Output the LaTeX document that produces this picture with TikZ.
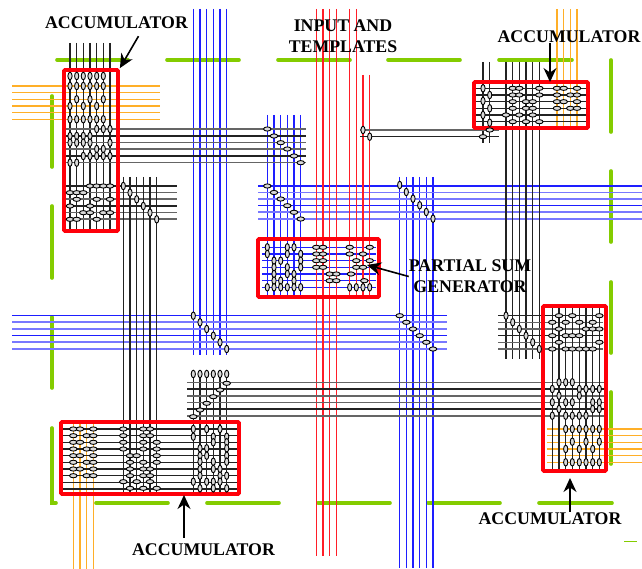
\documentclass[tikz,border=0pt]{standalone}
\usepackage{fontspec}
\setmainfont{Liberation Serif}
\usepackage{xcolor}
\usetikzlibrary{positioning, arrows.meta}
\definecolor{WireBlue}{RGB}{30,30,255}
\definecolor{WireRed}{RGB}{255,30,40}
\definecolor{WireOrange}{RGB}{255,175,40}
\definecolor{WireGray}{RGB}{35,35,35}
\definecolor{DashGreen}{RGB}{132,204,0}
\definecolor{BoxRed}{RGB}{255,0,10}
\newcommand{\vrow}[2]{\foreach \cx in {#2} {\draw[cell] (\cx,#1) ellipse (2.1 and 3.8);}}
\newcommand{\hrow}[2]{\foreach \cx in {#2} {\draw[cell] (\cx,#1) ellipse (3.8 and 2.1);}}

\begin{document}
\begin{tikzpicture}[x=1pt, y=-1pt,
          blk/.style={draw=WireGray, line width=1.1pt},
          blkf/.style={draw=WireGray!70, line width=1.6pt},
          blu/.style={draw=WireBlue, line width=1.1pt},
          bluf/.style={draw=WireBlue!60, line width=1.7pt},
          rd/.style={draw=WireRed, line width=1.1pt},
          org/.style={draw=WireOrange, line width=1.1pt},
          dsh/.style={draw=DashGreen, line width=3.6pt, line cap=round},
          redbox/.style={rectangle, draw=BoxRed, line width=3.8pt, rounded corners=1pt,
                         inner sep=0pt},
          cell/.style={draw=black, fill=black!15, line width=0.9pt},
          lbl/.style={font=\bfseries\fontsize{17.8}{21}\selectfont, align=center, inner sep=0pt},
          arr/.style={-{Stealth[length=14pt, width=13pt]}, draw=black, line width=1.6pt}
        ]
        \useasboundingbox (0,0) rectangle (642,569);

        % green dashes round the array
        \foreach \xa/\xb in {57/128, 167/239, 278/350, 388/460, 499/572}
            \draw[dsh] (\xa,60) -- (\xb,60);
        \foreach \xa/\xb in {96/168, 207/279, 318/390, 428/500, 539/612}
            \draw[dsh] (\xa,503) -- (\xb,503);
        \foreach \ya/\yb in {96/167, 206/278, 317/388}
            \draw[dsh] (52,\ya) -- (52,\yb);
        \draw[dsh] (52,428) -- (52,503) -- (56,503);
        \foreach \ya/\yb in {60/132, 171/242, 282/353, 392/464}
            \draw[dsh] (611,\ya) -- (611,\yb);
        \draw[draw=DashGreen, line width=0.8pt] (624,541) -- (637,541);

        % wires
        \foreach \y in {86,92.7,99.3,106,112.7,119.3}
            \draw[org] (12,\y) -- (160,\y);
        \foreach \x in {557,563.7,570.3,577}
            \draw[org] (\x,9) -- (\x,127);
        \foreach \x in {73.3,80,86.7,93.3}
            \draw[org] (\x,423) -- (\x,569);
        \foreach \y in {429,435.7,442.3,449,455.7,462.3}
            \draw[org] (547,\y) -- (642,\y);

        \foreach \x in {193.3,200,206.7,213.3,220,226.7}
            \draw[blu] (\x,9) -- (\x,355);
        \foreach \x in {267.3,274,280.7,287.3,294,300.7}
            \draw[blu] (\x,115) -- (\x,295);
        \foreach \x in {399.7,406.3,413,419.7,426.3,433}
            \draw[blu] (\x,177) -- (\x,568);
        \foreach \y/\s in {186/blu,192.5/bluf,199/bluf,205.7/blu,212.3/bluf,219/bluf}
            \draw[\s] (258,\y) -- (642,\y);
        \foreach \y/\s in {315.7/blu,322.3/bluf,329/bluf,335.7/blu,342.3/bluf,349/bluf}
            \draw[\s] (12,\y) -- (447,\y);
        \foreach \y in {247.3,254,260.7,267.3,274,280.7,287.3}
            \draw[blu] (262,\y) -- (376,\y);

        \foreach \x in {316.3,323,329.7,336.3}
            \draw[rd] (\x,9) -- (\x,556);
        \foreach \x in {349.7,356.3}
            \draw[rd] (\x,9) -- (\x,296);
        \foreach \x in {363,369.7}
            \draw[rd] (\x,75) -- (\x,296);

        \foreach \x in {70,76.7,83.3,90,96.7,103.3,110}
            \draw[blk] (\x,43) -- (\x,230);
        \foreach \y/\s in {129/blkf,136/blk,142.7/blkf,149/blkf,156/blk,162.7/blkf}
            \draw[\s] (65,\y) -- (306,\y);
        \foreach \y/\s in {186/blk,192.7/blkf,199.3/blkf,206/blk,212.7/blkf,219.3/blkf}
            \draw[\s] (65,\y) -- (177,\y);
        \foreach \x in {123.3,130,136.7,143.3,150,156.7}
            \draw[blk] (\x,177) -- (\x,493);
        \foreach \x in {193.3,200,206.7,213.3,220,226.7}
            \draw[blk] (\x,370) -- (\x,493);
        \foreach \y in {429,435.7,442.3,449,455.7,462.3,469,475.7,482.3,489}
            \draw[blk] (63,\y) -- (238,\y);
        \foreach \y/\s in {382.3/blkf,389/blk,395.7/blkf,402.3/blkf,409/blk,415.7/blkf}
            \draw[\s] (187,\y) -- (604,\y);
        \foreach \x in {506,512.7,519.3,526,532.7,539.3}
            \draw[blk] (\x,62) -- (\x,359);
        \foreach \y in {88.3,95,101.7,108.3,115,121.7}
            \draw[blk] (473,\y) -- (588,\y);
        \foreach \x in {483,489.7}
            \draw[blk] (\x,62) -- (\x,143);
        \draw[blkf] (360,130) -- (499,130);
        \draw[blk] (360,136.7) -- (499,136.7);
        \foreach \y/\s in {315.7/blk,322.3/blkf,329/blkf,335.7/blk,342.3/blkf,349/blkf}
            \draw[\s] (498,\y) -- (603,\y);
        \foreach \x in {552.3,559,565.7,572.3,579.3,586,592.7,599.3}
            \draw[blk] (\x,307) -- (\x,470);

        % accumulator and generator blocks
        \node[redbox, minimum width=54pt, minimum height=161pt]  (acctl) at (91,150.5) {};
        \node[redbox, minimum width=114pt, minimum height=46pt]  (acctr) at (531,105) {};
        \node[redbox, minimum width=121pt, minimum height=58pt]  (psgen) at (318.5,268) {};
        \node[redbox, minimum width=178pt, minimum height=72pt]  (accbl) at (150,458) {};
        \node[redbox, minimum width=63pt, minimum height=165pt]  (accbr) at (574.5,388.5) {};

        % switch cells, top left block
        \vrow{76}{70,76.7,83.3,90,96.7,103.3}
        \vrow{86}{70,76.7,83.3,90,96.7,103.3}
        \vrow{99.3}{76.7,90,103.3}
        \vrow{106}{70,83.3,96.7}
        \vrow{119.3}{70,76.7,83.3,90,96.7,103.3}
        \vrow{129}{96.7,103.3,110}
        \vrow{136}{70,76.7,83.3,90}
        \vrow{142.7}{70,76.7,83.3,90,110}
        \vrow{149}{96.7,103.3}
        \vrow{156}{83.3,90,96.7,103.3,110}
        \vrow{162.7}{70,76.7}
        \hrow{186}{90,96.7,103.3,110}
        \hrow{192.7}{70,76.7,83.3}
        \hrow{199.3}{76.7,96.7,110}
        \hrow{206}{70,90}
        \hrow{212.7}{83.3,90,103.3,110}
        \hrow{219.3}{70,76.7,96.7}
        \foreach \ax/\ay in {123.3/186,130/192.7,136.7/199.3,143.3/206,150/212.7,156.7/219.3}
            {\vrow{\ay}{\ax}}

        % top right block
        \vrow{88.3}{483}
        \vrow{95}{489.7}
        \vrow{101}{483}
        \vrow{108.3}{489.7}
        \vrow{115}{483}
        \vrow{122.7}{489.7}
        \hrow{88.3}{512.7,519.3,539.3,557,563.7,577}
        \hrow{95}{512.7,519.3,539.3,557,570.3,577}
        \hrow{101.7}{512.7,526,532.7,557,563.7,577}
        \hrow{108.3}{512.7,526,532.7,557,570.3,577}
        \hrow{115}{506,519.3,532.7}
        \hrow{121.7}{512.7,526,539.3}
        \vrow{130}{363}
        \vrow{136.7}{369.7}
        \hrow{136.7}{483}
        \hrow{130}{489.7}

        % diagonals of the blue crossings
        \foreach \ax/\ay in {267.3/129,274/136,280.7/142.7,287.3/149,294/156,300.7/162.7,
                             267.3/186,274/192.5,280.7/199,287.3/205.7,294/212.3,300.7/219,
                             399.7/315.7,406.3/322.3,413/329,419.7/335.7,426.3/342.3,433/349}
            {\hrow{\ay}{\ax}}
        \foreach \ax/\ay in {193.3/315.7,200/322.3,206.7/329,213.3/335.7,220/342.3,226.7/349,
                             399.7/185,406.3/192,413/198.7,419.7/205.3,426.3/212,433/218.7,
                             506/315.7,512.7/322.3,519.3/329,526/335.7,532.7/342.3,539.3/349}
            {\vrow{\ay}{\ax}}

        % partial sum generator
        \vrow{247.3}{267.3,287.3,294}
        \vrow{254}{267.3,287.3,300.7}
        \vrow{260.7}{274,280.7,300.7}
        \vrow{267.3}{274,287.3,300.7}
        \vrow{274}{274,287.3,294}
        \vrow{280.7}{274,280.7,294}
        \vrow{287.3}{267.3,274,280.7,287.3,294,300.7,349.7,356.3,363,369.7}
        \hrow{247.3}{316.3,323,349.7,369.7}
        \hrow{254}{316.3,323,349.7,363}
        \hrow{260.7}{316.3,323,356.3,369.7}
        \hrow{267.3}{316.3,323,356.3,363}
        \hrow{274}{329.7,336.3,351}
        \hrow{280.7}{329.7,336.3,364.3}

        % bottom left block
        \hrow{429}{73.3,80,93.3,123.3,143.3,150}
        \hrow{435.7}{73.3,86.7,93.3,123.3,143.3,150}
        \hrow{442.3}{73.3,80,93.3,123.3,143.3,156.7}
        \hrow{449}{73.3,86.7,93.3,123.3,143.3,156.7}
        \hrow{455.7}{73.3,80,93.3,130,136.7,156.7}
        \hrow{462.3}{73.3,86.7,93.3,130,143.3,156.7}
        \hrow{469}{73.3,80,93.3,130,143.3,150}
        \hrow{475.7}{73.3,86.7,93.3,130,143.3,150}
        \hrow{481.7}{123.3,136.7,150}
        \hrow{488.3}{130,143.3,156.7}
        \vrow{429}{193.3,206.7,220}
        \vrow{436.7}{193.3,213.3,226.7}
        \vrow{442.3}{213.3,226.7}
        \vrow{448.3}{200,206.7,226.7}
        \vrow{455.7}{200,206.7,226.7}
        \vrow{461.7}{200,213.3,226.7}
        \vrow{469}{200,213.3,220}
        \vrow{475.7}{200,220,226.7}
        \vrow{481.7}{193.3,206.7,213.3,220}
        \vrow{488.3}{200,213.3,226.7}
        \vrow{374}{193.3,200,206.7,213.3,220,226.7}
        \foreach \ax/\ay in {193.3/416.7,200/410,206.7/403.3,213.3/396.7,220/390,226.7/383.3}
            {\hrow{\ay}{\ax}}

        % right block
        \hrow{315.7}{559,572.3,599.3}
        \hrow{322.3}{552.3,565.7,579.3,592.7}
        \hrow{329}{559,586,592.7,599.3}
        \hrow{335.7}{552.3,565.7,572.3,579.3}
        \hrow{342.3}{559,599.3}
        \hrow{349}{552.3,565.7,572.3,579.3,586,592.7}
        \vrow{382.3}{559,565.7,572.3}
        \vrow{389}{552.3,579.3,586,592.7,599.3}
        \vrow{395.7}{559,579.3}
        \vrow{402.3}{552.3,565.7,572.3,592.7,599.3}
        \vrow{409}{559,592.7,599.3}
        \vrow{415.7}{552.3,565.7,572.3,579.3,586}
        \vrow{429}{565.7,572.3,579.3,586,592.7,599.3}
        \vrow{441.7}{572.3,586,599.3}
        \vrow{449}{565.7,579.3,592.7}
        \vrow{462.3}{565.7,572.3,579.3,586,592.7,599.3}

        % labels
        \node[lbl] (lbltl) at (116.5,23) {ACCUMULATOR};
        \node[lbl] (lblin) at (343,36.5) {INPUT AND\\TEMPLATES};
        \node[lbl] (lbltr) at (569,36.7) {ACCUMULATOR};
        \node[lbl] (lblps) at (470,276.5) {PARTIAL SUM\\GENERATOR};
        \node[lbl] (lblbl) at (203.5,550) {ACCUMULATOR};
        \node[lbl] (lblbr) at (550,519) {ACCUMULATOR};

        \coordinate (tiptr) at (550,82);
        \coordinate (tipps) at (367,265);
        \coordinate (tipbl) at (184,495);
        \coordinate (tipbr) at (570,478);

        \draw[arr] ([xshift=22pt,yshift=-7pt]lbltl.south) -- (acctl.north east);
        \draw[arr] (tiptr |- lbltr.south) -- (tiptr);
        \draw[arr] (lblps.west) -- (tipps);
        \draw[arr] ([yshift=6pt]tipbl |- lblbl.north) -- (tipbl);
        \draw[arr] ([yshift=1pt]tipbr |- lblbr.north) -- (tipbr);
      \end{tikzpicture}
\end{document}
